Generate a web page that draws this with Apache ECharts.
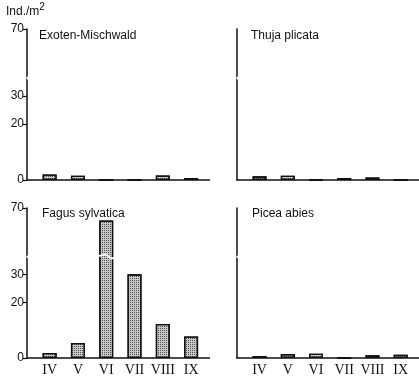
<!DOCTYPE html>
<html>
<head>
<meta charset="utf-8">
<script src="https://cdn.jsdelivr.net/npm/echarts@6/dist/echarts.min.js"></script>
<style>
  html, body { margin: 0; padding: 0; background: #fff; }
  #chart { width: 419px; height: 377px; }
</style>
</head>
<body>
<div id="chart"></div>
<script>
// Data (Ind./m2 per month)
const months = ['IV', 'V', 'VI', 'VII', 'VIII', 'IX'];
const exoten = [2.0, 1.5, 0, 0, 1.6, 0.7];
const thuja = [1.3, 1.5, 0, 0.7, 0.9, 0];
const fagus = [1.8, 5.4, 65.5, 30, 12.2, 7.7];
const picea = [0.7, 1.4, 1.5, 0, 1.0, 1.2];
const yTicks = [0, 20, 30, 70];
const panelNames = ['Exoten-Mischwald', 'Thuja plicata', 'Fagus sylvatica', 'Picea abies'];
const panelData = [exoten, thuja, fagus, picea];

const chart = echarts.init(document.getElementById('chart'), null, { renderer: 'canvas' });

const grids = [
    { left: 27, top: 29, width: 182.5, height: 151 },
    { left: 237, top: 29, width: 182, height: 151 },
    { left: 27, top: 208, width: 182.5, height: 153 },
    { left: 237, top: 208, width: 182, height: 153 }
];
const titlePos = [
    { left: 39, top: 30 },
    { left: 251, top: 30 },
    { left: 42, top: 208 },
    { left: 252, top: 208 }
];

const lineColor = '#111';
const sansFont = 'Liberation Sans';

const xAxes = grids.map((g, i) => ({
    type: 'value',
    gridIndex: i,
    min: 0.2,
    max: 6.65,
    splitLine: { show: false },
    axisTick: { show: false },
    axisLine: { show: true, lineStyle: { color: lineColor, width: 1.5 } },
    axisLabel: {
        show: i >= 2,
        customValues: [1, 2, 3, 4, 5, 6],
        formatter: (v) => months[Math.round(v) - 1] || '',
        fontFamily: 'Liberation Serif',
        fontSize: 14,
        color: lineColor,
        margin: 5
    }
}));

const yAxes = grids.map((g, i) => ({
    type: 'value',
    gridIndex: i,
    min: 0,
    max: 70,
    breaks: [{ start: 36, end: 53, gap: '1.5%' }],
    breakArea: {
        show: true,
        expandOnClick: false,
        zigzagAmplitude: 2,
        itemStyle: { color: '#fff', borderColor: '#fff', borderWidth: 0, opacity: 1 }
    },
    splitLine: { show: false },
    axisLine: { show: true, lineStyle: { color: lineColor, width: 1.5 } },
    axisTick: {
        show: i % 2 === 0,
        customValues: yTicks,
        length: 4,
        lineStyle: { color: lineColor, width: 1.2 }
    },
    axisLabel: {
        show: i % 2 === 0,
        customValues: yTicks,
        fontFamily: sansFont,
        fontSize: 12,
        color: lineColor,
        margin: 3
    }
}));

const series = panelData.map((values, i) => ({
    type: 'bar',
    xAxisIndex: i,
    yAxisIndex: i,
    barWidth: 14,
    data: values.map((v, k) => [k + 1, v]),
    itemStyle: {
        color: '#c8c8c8',
        borderColor: lineColor,
        borderWidth: 1.3,
        decal: {
            symbol: 'rect',
            symbolSize: 1,
            color: 'rgba(0,0,0,0.6)',
            dashArrayX: [1, 1],
            dashArrayY: [1, 1],
            rotation: 0
        }
    },
    silent: true
}));

const titles = panelNames.map((name, i) => ({
    text: name,
    left: titlePos[i].left,
    top: titlePos[i].top,
    padding: 0,
    textStyle: { fontFamily: sansFont, fontSize: 12, fontWeight: 'normal', color: lineColor }
}));
titles.push({
    text: '{a|Ind./m}{b|2}',
    left: 6,
    top: 2,
    padding: 0,
    textStyle: {
        fontWeight: 'normal',
        rich: {
            a: { fontFamily: sansFont, fontSize: 12, fontWeight: 'normal', color: lineColor, verticalAlign: 'bottom' },
            b: { fontFamily: sansFont, fontSize: 10, fontWeight: 'normal', color: lineColor, verticalAlign: 'top', padding: [0, 0, 6, 0] }
        }
    }
});

chart.setOption({
    backgroundColor: '#fff',
    animation: false,
    title: titles,
    grid: grids,
    xAxis: xAxes,
    yAxis: yAxes,
    series: series
});
</script>
</body>
</html>
